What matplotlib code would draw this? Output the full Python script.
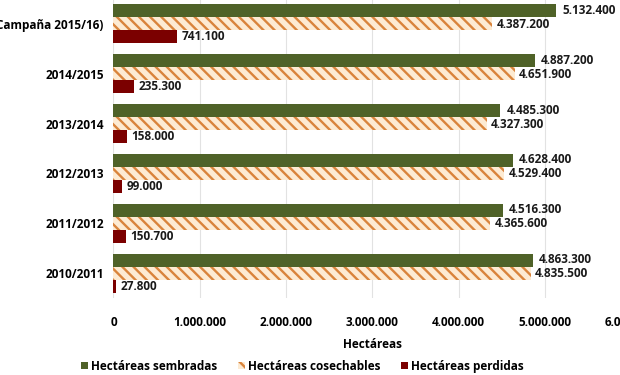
import numpy as np
import matplotlib.pyplot as plt

# datos (de abajo hacia arriba)
campanas = ['2010/2011', '2011/2012', '2012/2013', '2013/2014', '2014/2015', 'Campaña 2015/16)']
sembradas = [4863300, 4516300, 4628400, 4485300, 4887200, 5132400]
cosechables = [4835500, 4365600, 4529400, 4327300, 4651900, 4387200]
perdidas = [27800, 150700, 99000, 158000, 235300, 741100]
xticks = [0, 1000000, 2000000, 3000000, 4000000, 5000000, 6000000]


def fmt(v):
    # separador de miles con punto
    return '{:,}'.format(v).replace(',', '.')


plt.rcParams['font.family'] = ['Open Sans', 'DejaVu Sans']
plt.rcParams['hatch.linewidth'] = 1.7

fig = plt.figure(figsize=(6.2, 3.75), dpi=100)
ax = fig.add_axes([0.183, 0.205, 0.835, 0.798])

y = np.arange(len(campanas))
h = 0.26
verde = '#4f6228'
naranja = '#d9843c'
rojo = '#7b0000'
fs = 8.5

ax.barh(y + h, sembradas, height=h, color=verde, label='Hectáreas sembradas', zorder=3)
ax.barh(y, cosechables, height=h, color='#fdebd3', edgecolor=naranja, linewidth=0,
        hatch='\\\\\\', label='Hectáreas cosechables', zorder=3)
ax.barh(y - h, perdidas, height=h, color=rojo, label='Hectáreas perdidas', zorder=3)

for i in range(len(campanas)):
    ax.text(sembradas[i] + 70000, y[i] + h + 0.01, fmt(sembradas[i]), va='center',
            fontsize=fs, fontweight='bold', color='#1a1a1a')
    ax.text(cosechables[i] + 50000, y[i] - 0.01, fmt(cosechables[i]), va='center',
            fontsize=fs, fontweight='bold', color='#1a1a1a')
    ax.text(perdidas[i] + 50000, y[i] - h, fmt(perdidas[i]), va='center',
            fontsize=fs, fontweight='bold', color='#1a1a1a')

ax.set_xlim(0, 6000000)
ax.set_ylim(-0.5, len(campanas) - 0.5)
ax.set_xticks(xticks)
ax.set_xticklabels([fmt(v) for v in xticks], fontsize=fs, fontweight='bold')
ax.set_yticks(y)
ax.set_yticklabels(campanas, fontsize=fs, fontweight='bold')
ax.tick_params(length=0, pad=7)
ax.tick_params(axis='x', pad=13)
ax.set_xlabel('Hectáreas', fontsize=fs, fontweight='bold', labelpad=6)
ax.xaxis.grid(True, color='#e2e2e2', linewidth=0.8, zorder=0)
for s in ax.spines.values():
    s.set_visible(False)

ax.legend(loc='center', bbox_to_anchor=(0.365, -0.227), ncol=3, frameon=False,
          prop={'size': fs, 'weight': 'bold'}, handlelength=0.6, handleheight=0.6,
          handletextpad=0.3, columnspacing=1.7)

fig.savefig('out.png', dpi=100)
